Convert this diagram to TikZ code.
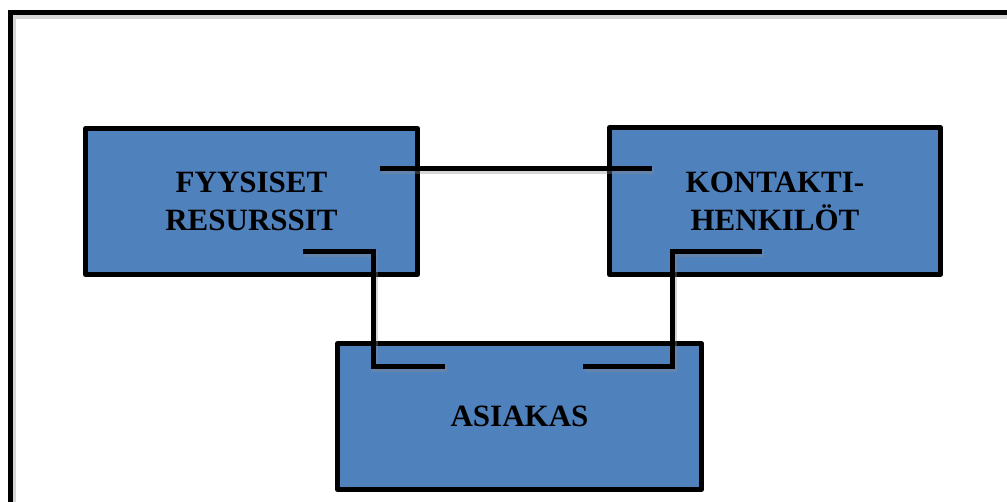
\documentclass[tikz,border=0pt]{standalone}
\usepackage{fontspec}
\setmainfont{Liberation Serif}
\definecolor{boxblue}{HTML}{4F81BD}
\begin{document}
\begin{tikzpicture}[x=1pt,y=-1pt,
  box/.style={rectangle, draw=black, line width=5pt, fill=boxblue, line join=round,
    align=center, inner sep=0pt, font=\fontsize{31}{38}\selectfont\bfseries},
  lineshadow/.style={preaction={draw=black!45, opacity=0.35, line width=7pt,
    transform canvas={shift={(1.5pt,-2.5pt)}}}},
  conn/.style={draw=black, line width=5pt, line join=miter, lineshadow}]
\clip (0,0) rectangle (1007,501);
\fill[white] (0,0) rectangle (1007,501);
% outer frame
\draw[line width=5pt, line join=miter, lineshadow] (10.5,520) -- (10.5,12.5) -- (1030,12.5);
% boxes
\node[box, minimum width=332pt, minimum height=146pt] (fr) at (251.5,201.5) {FYYSISET\\RESURSSIT};
\node[box, minimum width=331pt, minimum height=147pt] (kh) at (775,201) {KONTAKTI-\\HENKILÖT};
\node[box, minimum width=364pt, minimum height=146pt] (as) at (519.5,416.5) {ASIAKAS};
% connector end points
\coordinate (a1) at (380,168);
\coordinate (a2) at (652,168);
\coordinate (b1) at (303,251);
\coordinate (b2) at (445,366);
\coordinate (c1) at (762,251);
\coordinate (c2) at (583,366);
% connectors
\draw[conn] (a1) -- (a2);
\draw[conn] (b1) -- (373,251) -- (373,366) -- (b2);
\draw[conn] (c1) -- (672,251) -- (672,366) -- (c2);
\end{tikzpicture}
\end{document}
